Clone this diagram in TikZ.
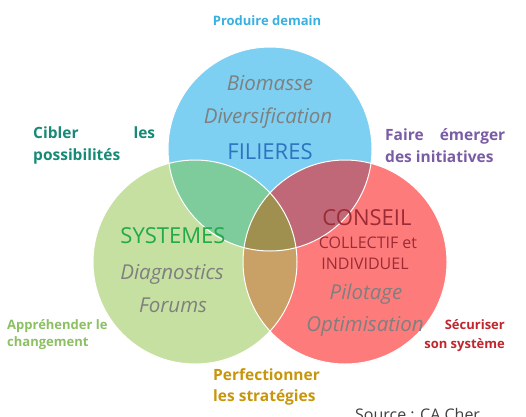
\documentclass[tikz,border=0pt]{standalone}
\usepackage{fontspec}
\setmainfont{Open Sans}
\begin{document}
\begin{tikzpicture}[x=1pt,y=-1pt,
  lbl/.style={inner sep=0pt,anchor=base,font=\bfseries\fontsize{15.5}{18}\selectfont},
  sml/.style={inner sep=0pt,anchor=base,font=\bfseries\fontsize{13}{15}\selectfont},
  itl/.style={inner sep=0pt,anchor=base,text=gray50,font=\itshape\fontsize{20.5}{22}\selectfont},
  big/.style={inner sep=0pt,anchor=base,font=\fontsize{22}{24}\selectfont},
  mid/.style={inner sep=0pt,anchor=base,text=tcon,font=\fontsize{16}{18}\selectfont},
  rim/.style={draw=white,line width=1pt}]
\definecolor{cblue}{HTML}{7DD0F2}
\definecolor{cgreen}{HTML}{C5E0A0}
\definecolor{cred}{HTML}{FD7B7B}
\definecolor{cbg}{HTML}{7ECB9C}
\definecolor{cbr}{HTML}{C06878}
\definecolor{cgr}{HTML}{C9A065}
\definecolor{call}{HTML}{A09050}
\definecolor{gray50}{HTML}{7F7F7F}
\definecolor{tblue}{HTML}{3AB0E0}
\definecolor{tteal}{HTML}{168A76}
\definecolor{tpurple}{HTML}{7A5CA5}
\definecolor{tlgreen}{HTML}{8CC063}
\definecolor{tred}{HTML}{C0262D}
\definecolor{tgold}{HTML}{C8960C}
\definecolor{tfil}{HTML}{2B74C0}
\definecolor{tsys}{HTML}{22A94A}
\definecolor{tcon}{HTML}{9C2B35}
\definecolor{tsrc}{HTML}{404040}
\useasboundingbox (0,0) rectangle (526,416);
\fill[white] (0,0) rectangle (526,416);
\def\cB{(270,149) circle[radius=102]}
\def\cG{(195,262) circle[radius=102]}
\def\cR{(345,262) circle[radius=102]}
\fill[cblue] \cB;
\fill[cgreen] \cG;
\fill[cred] \cR;
\begin{scope}\clip \cB; \fill[cbg] \cG; \end{scope}
\begin{scope}\clip \cB; \fill[cbr] \cR; \end{scope}
\begin{scope}\clip \cG; \fill[cgr] \cR; \end{scope}
\begin{scope}\clip \cB; \clip \cG; \fill[call] \cR; \end{scope}
\draw[rim] \cB; \draw[rim] \cG; \draw[rim] \cR;
% texts
\node[sml,text=tblue] (prod) at (267,25) {Produire demain};
\node[itl] (bio) at (270,90) {Biomasse};
\node[itl] (div) at (268,123) {Diversification};
\node[big,text=tfil] (fil) at (270,159) {FILIERES};
\node[big,text=tsys] (sys) at (173,243) {SYSTEMES};
\node[itl] (dia) at (172,279) {Diagnostics};
\node[itl] (for) at (173,312) {Forums};
\node[big,text=tcon] (con) at (367,225) {CONSEIL};
\node[mid] (col) at (368,248) {COLLECTIF et};
\node[mid] (ind) at (365,269) {INDIVIDUEL};
\node[itl] (pil) at (366,299) {Pilotage};
\node[itl] (opt) at (365,331) {Optimisation};
\node[lbl,text=tteal,anchor=base west] (cib1) at (33,138) {\makebox[122pt][s]{Cibler\hfill les}};
\node[lbl,text=tteal,anchor=base west] (cib2) at (33,160) {possibilités};
\node[lbl,text=tpurple,anchor=base west] (fai1) at (385,140) {\makebox[120pt][s]{Faire\hfill émerger}};
\node[lbl,text=tpurple,anchor=base west] (fai2) at (385,162) {des initiatives};
\node[sml,text=tlgreen,anchor=base west] (app1) at (7,329) {Appréhender le};
\node[sml,text=tlgreen,anchor=base west] (app2) at (7,346) {changement};
\node[sml,text=tred,anchor=base east] (sec1) at (505,329) {Sécuriser};
\node[sml,text=tred,anchor=base east] (sec2) at (505,348) {son système};
\node[lbl,text=tgold,anchor=base west] (per1) at (213,380) {Perfectionner};
\node[lbl,text=tgold,anchor=base west] (per2) at (213,401) {les stratégies};
\node[inner sep=0pt,anchor=base west,text=tsrc,font=\fontsize{16}{18}\selectfont] (src) at (355,420) {Source : CA Cher};
\end{tikzpicture}
\end{document}
